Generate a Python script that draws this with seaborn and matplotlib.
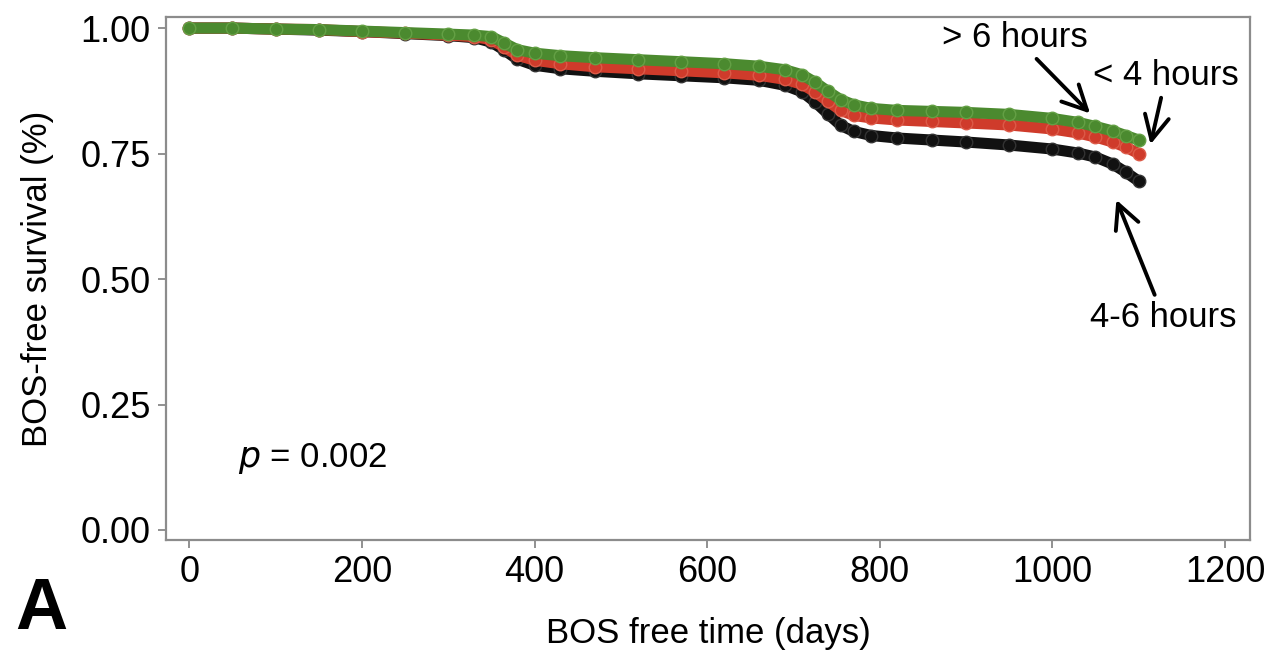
import numpy as np
import pandas as pd
import matplotlib
matplotlib.use("Agg")
import matplotlib.pyplot as plt
import seaborn as sns

# BOS-free survival curves
days = [0, 50, 100, 150, 200, 250, 300, 330, 350, 365, 380, 400, 430, 470, 520,
        570, 620, 660, 690, 710, 725, 740, 755, 770, 790, 820, 860, 900, 950,
        1000, 1030, 1050, 1070, 1085, 1100]

over_6h = [1.0, 1.0, 0.998, 0.997, 0.994, 0.991, 0.988, 0.986, 0.983, 0.97, 0.957,
           0.95, 0.945, 0.941, 0.937, 0.933, 0.929, 0.924, 0.917, 0.907, 0.892,
           0.874, 0.857, 0.847, 0.840, 0.836, 0.834, 0.832, 0.828, 0.82, 0.812,
           0.804, 0.795, 0.786, 0.777]
under_4h = [1.0, 1.0, 0.998, 0.997, 0.993, 0.99, 0.986, 0.983, 0.977, 0.962, 0.946,
            0.936, 0.929, 0.923, 0.919, 0.915, 0.911, 0.906, 0.898, 0.888, 0.873,
            0.854, 0.836, 0.826, 0.821, 0.817, 0.814, 0.811, 0.807, 0.799, 0.791,
            0.783, 0.773, 0.763, 0.75]
h4_6 = [1.0, 1.0, 0.998, 0.996, 0.993, 0.989, 0.985, 0.981, 0.972, 0.956, 0.938,
        0.926, 0.919, 0.914, 0.909, 0.905, 0.901, 0.896, 0.886, 0.873, 0.853,
        0.829, 0.806, 0.794, 0.786, 0.781, 0.777, 0.773, 0.767, 0.759, 0.751,
        0.743, 0.729, 0.713, 0.695]

groups = ["4-6 hours", "< 4 hours", "> 6 hours"]
colors = {"4-6 hours": "#111111", "< 4 hours": "#cf3b2b", "> 6 hours": "#4b8a2f"}
edges = {"4-6 hours": "#333333", "< 4 hours": "#dc5a48", "> 6 hours": "#64a045"}

df = pd.concat([
    pd.DataFrame({"days": days, "surv": h4_6, "group": "4-6 hours"}),
    pd.DataFrame({"days": days, "surv": under_4h, "group": "< 4 hours"}),
    pd.DataFrame({"days": days, "surv": over_6h, "group": "> 6 hours"}),
])

sns.set_style("white")
plt.rcParams["font.family"] = ["Liberation Sans", "DejaVu Sans"]
plt.rcParams["text.color"] = "black"
plt.rcParams["axes.labelcolor"] = "black"

fig = plt.figure(figsize=(12.84, 6.56), dpi=100)
ax = fig.add_axes([0.1293, 0.1768, 0.8442, 0.7972])

for g in groups:
    sub = df[df["group"] == g]
    sns.lineplot(data=sub, x="days", y="surv", ax=ax, color=colors[g],
                 linewidth=8, marker="o", markersize=9,
                 markeredgecolor=edges[g], markeredgewidth=1.0, zorder=3)

ax.set_xlim(-27, 1229)
ax.set_ylim(-0.02, 1.022)
ax.set_xticks([0, 200, 400, 600, 800, 1000, 1200])
ax.set_yticks([0.0, 0.25, 0.5, 0.75, 1.0])
ax.set_yticklabels(["0.00", "0.25", "0.50", "0.75", "1.00"])
ax.tick_params(axis="both", labelsize=26, length=6, width=1.3, color="#888888",
               labelcolor="black", direction="out", left=True, bottom=True, pad=5)
for s in ax.spines.values():
    s.set_color("#8c8c8c")
    s.set_linewidth(1.6)

ax.set_xlabel("BOS free time (days)", fontsize=25, labelpad=19)
ax.set_ylabel("BOS-free survival (%)", fontsize=25, labelpad=19)

ax.text(56, 0.143, "$p$ = 0.002", fontsize=25, va="center", ha="left")

arrow = dict(arrowstyle="->,head_length=0.7,head_width=0.35", color="black", lw=2.8)
ax.annotate("> 6 hours", xy=(1046, 0.826), xytext=(957, 0.982), fontsize=25,
            ha="center", va="center", arrowprops=arrow)
ax.annotate("< 4 hours", xy=(1113, 0.763), xytext=(1132, 0.906), fontsize=25,
            ha="center", va="center", arrowprops=arrow)
ax.annotate("4-6 hours", xy=(1073, 0.663), xytext=(1129, 0.424), fontsize=25,
            ha="center", va="center", arrowprops=arrow)

fig.text(0.012, 0.07, "A", fontsize=52, fontweight="bold", ha="left", va="center")

fig.savefig("out.png", dpi=100)
